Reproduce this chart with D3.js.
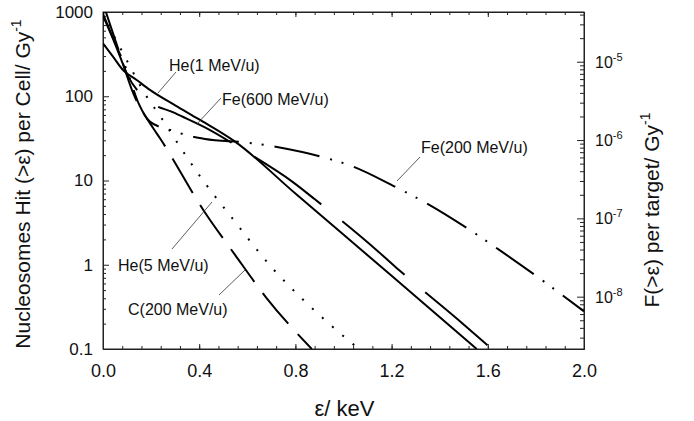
<!DOCTYPE html>
<html lang="en">
<head>
<meta charset="UTF-8">
<title>Nucleosomes hit</title>
<script src="https://d3js.org/d3.v7.min.js"></script>
<style>
    body { margin: 0; background: #fff; }
    svg { font-family: "Liberation Sans", Arial, sans-serif; }
    .axis path, .axis line { stroke: #222; }
    .curve { fill: none; stroke: #000; stroke-width: 2; }
    .leader { stroke: #333; stroke-width: 0.8; }
    .note { font-size: 16px; fill: #111; }
</style>
</head>
<body>
<svg width="694" height="421"></svg>
<script>
    // tick values
    const xTicks = [0, 0.4, 0.8, 1.2, 1.6, 2.0];
    const leftTicks = [0.1, 1, 10, 100, 1000];
    const rightTicks = [-8, -7, -6, -5];   // exponents of 10

    // curves, [energy keV, hits per cell per Gy]
    const he1 = [[0, 425], [0.04, 300], [0.083, 205], [0.14, 156], [0.195, 119], [0.3, 78], [0.4, 53],
        [0.549, 28.9], [0.8, 7.0], [1.2, 0.74], [1.554, 0.1]];
    const fe600 = [[0, 900], [0.05, 420], [0.105, 171], [0.175, 94.6], [0.3, 63], [0.445, 39.7],
        [0.583, 23], [0.791, 9.5], [0.881, 5.98], [1.145, 1.43], [1.228, 0.88], [1.496, 0.2], [1.616, 0.1]];
    const fe200 = [[0, 950], [0.05, 430], [0.1, 200], [0.15, 80], [0.195, 50], [0.29, 39], [0.375, 33],
        [0.424, 31.1], [0.604, 28.1], [0.729, 24.8], [0.909, 19.1], [1.041, 14.6], [1.214, 8.44],
        [1.346, 5.36], [1.526, 2.58], [1.658, 1.43], [1.834, 0.63], [2.0, 0.28]];
    const he5 = [[0, 1000], [0.04, 560], [0.083, 326], [0.182, 99], [0.244, 54.7], [0.327, 23.5],
        [0.387, 13.1], [0.556, 3.05], [0.701, 0.933], [0.829, 0.392], [0.962, 0.176], [1.064, 0.1]];
    const c200 = [[0.012, 1000], [0.06, 390], [0.126, 108], [0.209, 41.7], [0.237, 31.7], [0.417, 4.47],
        [0.549, 1.31], [0.681, 0.40], [0.868, 0.1]];

    const svg = d3.select("svg");
    const x0 = 103, x1 = 584, y0 = 12, y1 = 349;

    const x = d3.scaleLinear().domain([0, 2]).range([x0, x1]);
    const y = d3.scaleLog().domain([0.1, 1000]).range([y1, y0]);
    const yR = d3.scaleLog().domain([Math.pow(10, -8.668), Math.pow(10, -4.365)]).range([y1, y0]);

    svg.append("defs").append("clipPath").attr("id", "plot")
        .append("rect").attr("x", x0).attr("y", y0)
        .attr("width", x1 - x0).attr("height", y1 - y0);

    // minor tick helpers
    const xMinor = d3.range(0, 2.0001, 0.08);
    const logMinor = (lo, hi) => {
        const out = [];
        for (let e = lo; e <= hi; e++)
            for (let m = 2; m <= 9; m++) out.push(m * Math.pow(10, e));
        return out;
    };

    // bottom axis
    svg.append("g").attr("class", "axis")
        .attr("transform", `translate(0,${y1})`)
        .call(d3.axisBottom(x).tickValues(xMinor).tickSizeInner(-3).tickSizeOuter(0).tickFormat(""));
    svg.append("g").attr("class", "axis")
        .attr("transform", `translate(0,${y1})`)
        .call(d3.axisBottom(x).tickValues(xTicks).tickSizeInner(-5).tickSizeOuter(0)
            .tickPadding(15).tickFormat(d3.format(".1f")))
        .call(g => g.selectAll("text").attr("font-size", 18).attr("fill", "#111"));

    // top axis
    svg.append("g").attr("class", "axis")
        .attr("transform", `translate(0,${y0})`)
        .call(d3.axisTop(x).tickValues(xMinor).tickSizeInner(-3).tickSizeOuter(0).tickFormat(""));
    svg.append("g").attr("class", "axis")
        .attr("transform", `translate(0,${y0})`)
        .call(d3.axisTop(x).tickValues(xTicks).tickSizeInner(-5).tickSizeOuter(0).tickFormat(""));

    // left axis
    svg.append("g").attr("class", "axis")
        .attr("transform", `translate(${x0},0)`)
        .call(d3.axisLeft(y).tickValues(logMinor(-1, 2)).tickSizeInner(-3).tickSizeOuter(0).tickFormat(""));
    svg.append("g").attr("class", "axis")
        .attr("transform", `translate(${x0},0)`)
        .call(d3.axisLeft(y).tickValues(leftTicks).tickSizeInner(-6).tickSizeOuter(0)
            .tickPadding(10).tickFormat(d => d >= 1 ? d3.format("d")(d) : "0.1"))
        .call(g => g.selectAll("text").attr("font-size", 17).attr("fill", "#111"));

    // right axis
    const rMinor = logMinor(-9, -5).filter(v => yR(v) >= y0 && yR(v) <= y1);
    svg.append("g").attr("class", "axis")
        .attr("transform", `translate(${x1},0)`)
        .call(d3.axisRight(yR).tickValues(rMinor).tickSizeInner(-4).tickSizeOuter(0).tickFormat(""));
    svg.append("g").attr("class", "axis")
        .attr("transform", `translate(${x1},0)`)
        .call(d3.axisRight(yR).tickValues(rightTicks.map(e => Math.pow(10, e)))
            .tickSizeInner(-7).tickSizeOuter(0).tickFormat(""));

    const rLab = svg.append("g").attr("font-size", 16).attr("fill", "#111");
    rightTicks.forEach(e => {
        const t = rLab.append("text")
            .attr("x", x1 + 11)
            .attr("y", yR(Math.pow(10, e)) + 6);
        t.append("tspan").text("10");
        t.append("tspan").attr("font-size", 11).attr("dy", -7).text(e);
    });

    // frame
    svg.append("rect")
        .attr("x", x0).attr("y", y0)
        .attr("width", x1 - x0).attr("height", y1 - y0)
        .attr("fill", "none").attr("stroke", "#222");

    // curves
    const line = d3.line()
        .x(d => x(d[0]))
        .y(d => y(d[1]))
        .curve(d3.curveMonotoneX);

    const series = [
        {data: he1, dash: null},
        {data: fe600, dash: "82,27"},
        {data: fe200, dash: "46,11,2,10,2,11"},
        {data: he5, dash: "2,11.5"},
        {data: c200, dash: "40,14"}
    ];

    svg.append("g").attr("clip-path", "url(#plot)")
        .selectAll("path")
        .data(series)
        .enter().append("path")
        .attr("class", "curve")
        .attr("d", d => line(d.data))
        .attr("stroke-dasharray", d => d.dash);

    // annotations
    const notes = [
        {text: "He(1 MeV/u)", tx: 169, ty: 71, lx1: 158, ly1: 93, lx2: 176, ly2: 72},
        {text: "Fe(600 MeV/u)", tx: 222, ty: 105, lx1: 197, ly1: 124, lx2: 221, ly2: 98},
        {text: "Fe(200 MeV/u)", tx: 421, ty: 153, lx1: 397, ly1: 181, lx2: 420, ly2: 157},
        {text: "He(5 MeV/u)", tx: 118, ty: 271, lx1: 172, ly1: 249, lx2: 212, ly2: 202},
        {text: "C(200 MeV/u)", tx: 128, ty: 315, lx1: 219, ly1: 295, lx2: 245, ly2: 270}
    ];
    const note = svg.append("g");
    note.selectAll("line").data(notes).enter().append("line")
        .attr("class", "leader")
        .attr("x1", d => d.lx1).attr("y1", d => d.ly1)
        .attr("x2", d => d.lx2).attr("y2", d => d.ly2);
    note.selectAll("text").data(notes).enter().append("text")
        .attr("class", "note")
        .attr("x", d => d.tx).attr("y", d => d.ty)
        .text(d => d.text);

    // axis titles
    svg.append("text")
        .attr("x", (x0 + x1) / 2 + 1).attr("y", 416)
        .attr("text-anchor", "middle").attr("font-size", 22).attr("fill", "#111")
        .text("ε/ keV");

    const yt = svg.append("text")
        .attr("transform", "translate(30,184) rotate(-90)")
        .attr("text-anchor", "middle").attr("font-size", 21).attr("fill", "#111");
    yt.append("tspan").text("Nucleosomes Hit (>ε) per Cell/ Gy");
    yt.append("tspan").attr("font-size", 14).attr("dy", -9).text("-1");

    const yt2 = svg.append("text")
        .attr("transform", "translate(659,210) rotate(-90)")
        .attr("text-anchor", "middle").attr("font-size", 21).attr("fill", "#111");
    yt2.append("tspan").text("F(>ε) per target/ Gy");
    yt2.append("tspan").attr("font-size", 14).attr("dy", -9).text("-1");
</script>
</body>
</html>
